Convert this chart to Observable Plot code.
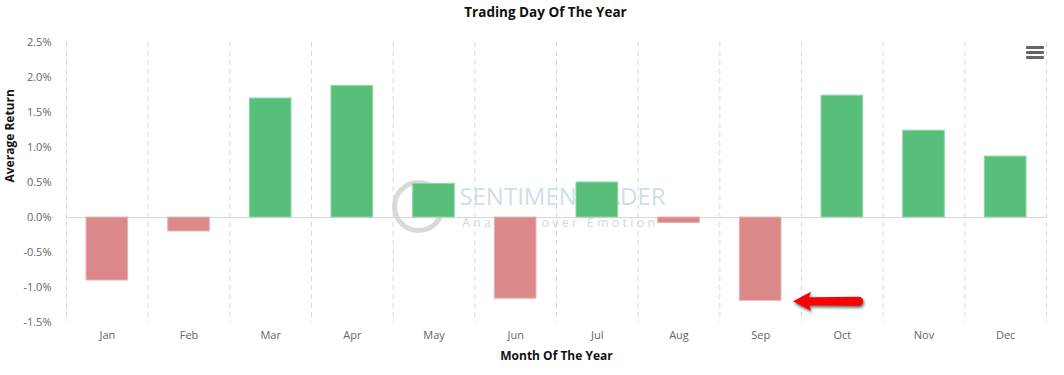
<!DOCTYPE html>
<html>
<head>
<meta charset="utf-8">
<script src="https://cdn.jsdelivr.net/npm/d3@7"></script>
<script src="https://cdn.jsdelivr.net/npm/@observablehq/plot@0.6"></script>
<style>
  html, body { margin: 0; padding: 0; background: #fff; }
  #wrap { position: relative; width: 1064px; height: 375px; font-family: "Open Sans", sans-serif; }
  #menu { position: absolute; left: 1026px; top: 46px; width: 18px; }
  #menu div { height: 3px; background: #666; margin-bottom: 2px; border-radius: 1px; }
</style>
</head>
<body>
<div id="wrap"><div id="menu"><div></div><div></div><div></div></div></div>
<script>
const months = ["Jan","Feb","Mar","Apr","May","Jun","Jul","Aug","Sep","Oct","Nov","Dec"];
const avgReturn = [-0.90, -0.20, 1.70, 1.88, 0.48, -1.16, 0.50, -0.08, -1.19, 1.74, 1.24, 0.87];
const yTicks = [-1.5, -1.0, -0.5, 0.0, 0.5, 1.0, 1.5, 2.0, 2.5];
const title = "Trading Day Of The Year";
const xTitle = "Month Of The Year";
const yTitle = "Average Return";
const watermark = ["SENTIMENTRADER", "A n a l y s i s   o v e r   E m o t i o n"];
const arrowFrom = "Oct", arrowTo = "Sep";

const data = months.map((m, i) => ({month: m, value: avgReturn[i]}));
const W = 1064, H = 375, mL = 66, mR = 18, mT = 42, mB = 53;
const bw = (W - mL - mR) / months.length;
const barInset = 20;
const sepVal = avgReturn[months.indexOf(arrowTo)];

// custom filled red arrow, positioned through Plot's own scales
function arrowRender(index, scales, values, dims, context) {
  const x = scales.x, y = scales.y;
  const bwid = x.bandwidth ? x.bandwidth() : 0;
  const tailX = x(arrowFrom) + bwid - barInset - 4;
  const tipX = x(arrowTo) + bwid - barInset + 12;
  const cy = y(sepVal) + 1;
  const headL = 18, headH = 9.5, shaft = 4;
  const p = `M${tipX},${cy} L${tipX + headL},${cy - headH} L${tipX + headL - 2},${cy - shaft} ` +
            `L${tailX},${cy - shaft - 0.5} A${shaft + 0.5},${shaft + 0.5} 0 0 1 ${tailX},${cy + shaft + 0.5} ` +
            `L${tipX + headL - 2},${cy + shaft} L${tipX + headL},${cy + headH} Z`;
  const path = document.createElementNS("http://www.w3.org/2000/svg", "path");
  path.setAttribute("d", p);
  path.setAttribute("fill", "#ff0000");
  path.style.filter = "drop-shadow(1px 2px 1.5px rgba(0,0,0,0.6))";
  const g = document.createElementNS("http://www.w3.org/2000/svg", "g");
  g.setAttribute("aria-label", "annotation arrow");
  g.appendChild(path);
  return g;
}

const chart = Plot.plot({
  width: W, height: H,
  marginLeft: mL, marginRight: mR, marginTop: mT, marginBottom: mB,
  style: {fontFamily: "'Open Sans', sans-serif", fontSize: "11px", color: "#666", background: "#fff"},
  x: {domain: months, padding: 0, round: false, label: null},
  y: {domain: [-1.5, 2.5], label: null},
  marks: [
    Plot.ruleX(months, {x: d => d, dx: -bw / 2, stroke: "#d8d8d8", strokeDasharray: "5,4", strokeWidth: 1}),
    Plot.ruleX([months[months.length - 1]], {x: d => d, dx: bw / 2, stroke: "#d8d8d8", strokeDasharray: "5,4", strokeWidth: 1}),
    // faint watermark logo
    Plot.dot([0], {frameAnchor: "middle", dx: -138, dy: 24, r: 24, stroke: "#d9d9d9", strokeWidth: 5, fill: "none"}),
    Plot.text([watermark[0]], {frameAnchor: "middle", dx: 6, dy: 15, text: d => d, fontSize: 24, fill: "#c5d7e6", fillOpacity: 0.85, fontFamily: "'Open Sans', sans-serif"}),
    Plot.text([watermark[1]], {frameAnchor: "middle", dx: 2, dy: 40, text: d => d, fontSize: 12.5, fill: "#d6d6d6", fontFamily: "'Open Sans', sans-serif"}),
    Plot.ruleY([0], {stroke: "#d8d8d8", strokeWidth: 1}),
    Plot.barY(data, {
      x: "month", y: "value",
      fill: d => d.value >= 0 ? "#57bf7a" : "#db8888",
      stroke: d => d.value >= 0 ? "#8ed6a6" : "#eab3b3",
      strokeWidth: 1,
      insetLeft: barInset, insetRight: barInset
    }),
    Plot.axisY(yTicks, {tickSize: 0, tickPadding: 15, tickFormat: d => d.toFixed(1) + "%", fill: "#666", fontSize: 11, label: null}),
    Plot.axisX({tickSize: 0, tickPadding: 9, fill: "#666", fontSize: 11, label: null}),
    Plot.text([yTitle], {frameAnchor: "left", dx: -56, rotate: -90, text: d => d, fontWeight: "bold", fontSize: 12, fill: "#111"}),
    Plot.text([xTitle], {frameAnchor: "bottom", dy: 37, text: d => d, fontWeight: "bold", fontSize: 12, fill: "#111"}),
    Plot.dot([sepVal], {y: d => d, render: arrowRender}),
    Plot.text([title], {frameAnchor: "top", dy: -35, dx: -11, text: d => d, fontWeight: "bold", fontSize: 13.5, fill: "#111"})
  ]
});

document.getElementById("wrap").prepend(chart);
</script>
</body>
</html>
